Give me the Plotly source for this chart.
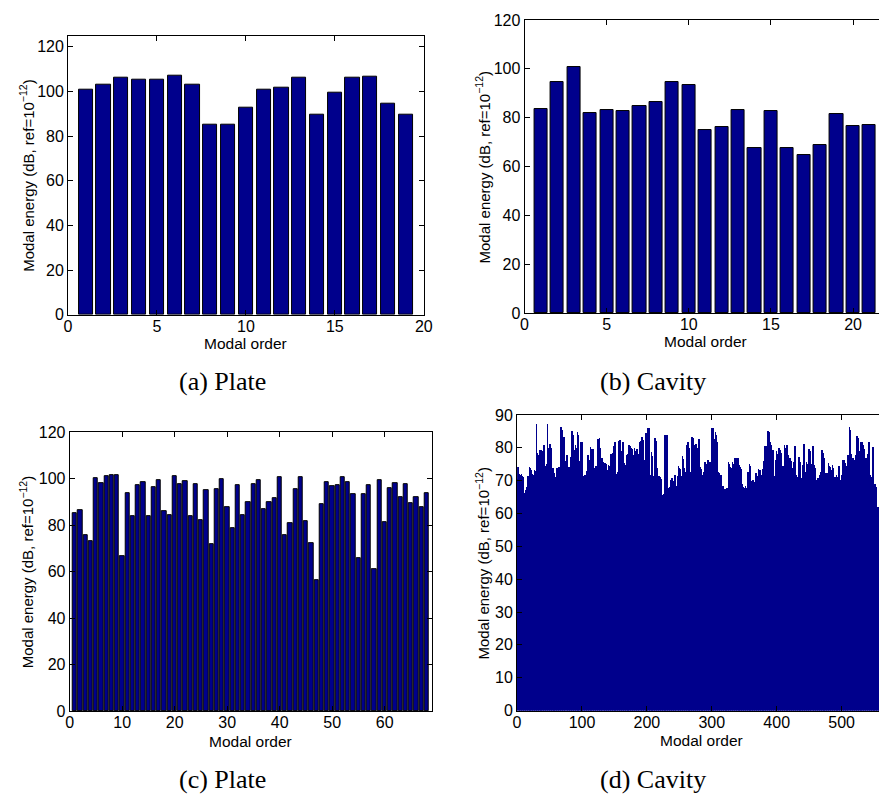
import plotly.graph_objects as go

# ---------------- data ----------------
plate_a_energy = [101.0, 103.2, 106.1, 105.5, 105.1, 106.9, 103.2, 85.3, 85.1, 92.6,
                  101.0, 101.9, 106.1, 89.6, 99.6, 106.4, 106.6, 94.6, 89.5]

cavity_b_energy = [83.4, 94.7, 100.9, 82.0, 83.1, 82.9, 84.9, 86.6, 94.5, 93.3,
                   74.8, 76.3, 83.3, 67.4, 82.7, 67.6, 64.7, 68.8, 81.4, 76.7, 77.2]

plate_c_energy = [85.2, 86.4, 75.5, 73.0, 100.4, 98.2, 101.1, 101.5, 101.3, 66.5,
                  93.6, 83.9, 97.2, 98.5, 83.9, 96.5, 99.5, 86.0, 84.5, 101.1,
                  97.7, 98.8, 83.9, 97.8, 82.1, 95.1, 71.8, 95.3, 99.8, 87.6,
                  78.9, 97.2, 84.2, 89.8, 97.5, 99.4, 87.0, 89.7, 91.5, 100.8,
                  75.5, 80.7, 95.4, 100.5, 81.7, 72.3, 56.5, 89.0, 98.4, 96.7,
                  97.0, 100.8, 98.5, 93.2, 65.8, 93.5, 97.4, 60.9, 99.4, 81.5,
                  95.8, 98.0, 92.0, 97.8, 89.4, 92.2, 87.6, 93.9]

cavity_d_energy = [
    70.5, 74.2, 72.0, 71.5, 69.0, 71.8, 72.0, 71.3, 71.0, 67.0,
    66.4, 59.4, 66.9, 67.2, 68.0, 71.3, 71.0, 71.5, 74.3, 74.0,
    72.5, 73.3, 71.5, 72.0, 71.8, 70.5, 73.3, 72.8, 73.0, 87.2,
    78.5, 77.8, 75.0, 77.8, 79.3, 79.2, 75.0, 79.3, 79.1, 78.0,
    80.5, 80.8, 74.5, 63.9, 72.0, 75.0, 87.2, 80.0, 79.3, 72.5,
    81.3, 80.0, 74.3, 73.0, 74.0, 72.3, 71.5, 72.3, 70.8, 71.0,
    73.8, 72.0, 73.8, 74.3, 73.0, 74.3, 75.0, 86.2, 85.5, 77.3,
    75.5, 83.3, 82.0, 72.0, 76.0, 65.5, 77.8, 75.0, 74.3, 73.0,
    74.3, 73.5, 77.3, 76.0, 85.2, 84.0, 79.3, 78.0, 79.3, 80.8,
    79.0, 80.0, 84.7, 84.0, 76.8, 76.0, 74.0, 75.8, 81.8, 80.5,
    81.8, 70.8, 71.5, 70.8, 71.8, 59.5, 71.8, 73.0, 77.8, 76.5,
    76.3, 76.0, 80.3, 79.5, 74.8, 60.0, 79.8, 79.5, 67.9, 74.0,
    72.0, 74.5, 68.0, 82.3, 82.8, 82.3, 83.0, 80.0, 76.8, 76.0,
    75.8, 76.8, 75.8, 74.0, 73.0, 75.3, 75.0, 74.0, 73.3, 73.0,
    74.8, 74.5, 73.0, 77.8, 78.0, 77.0, 78.3, 76.5, 80.5, 80.0,
    81.8, 81.5, 71.8, 72.0, 72.8, 62.5, 82.1, 81.0, 82.3, 79.0,
    65.9, 66.0, 81.8, 80.0, 75.3, 74.0, 74.8, 73.0, 77.8, 76.5,
    78.1, 77.0, 80.8, 79.5, 80.6, 80.0, 79.8, 79.0, 77.8, 76.0,
    80.0, 79.0, 75.8, 63.0, 79.6, 78.0, 75.3, 74.0, 81.8, 80.5,
    82.2, 81.0, 83.3, 82.5, 76.3, 75.0, 76.3, 75.5, 84.5, 83.0,
    85.0, 86.0, 86.0, 85.0, 71.8, 71.0, 78.8, 77.5, 70.8, 69.0,
    71.3, 70.0, 83.0, 82.0, 75.8, 74.0, 70.3, 69.5, 71.3, 70.0,
    71.1, 70.5, 64.9, 65.5, 64.9, 66.0, 84.0, 83.5, 83.8, 83.0,
    83.8, 80.0, 67.9, 67.0, 67.4, 68.0, 70.3, 69.5, 70.8, 70.0,
    68.7, 68.0, 71.8, 71.0, 68.4, 65.0, 71.3, 70.5, 74.6, 74.0,
    73.5, 72.5, 71.3, 70.5, 77.6, 76.5, 73.8, 73.0, 72.8, 72.0,
    81.0, 80.5, 81.8, 81.0, 80.0, 78.5, 72.8, 71.5, 72.0, 83.3,
    83.0, 82.3, 81.0, 75.3, 74.0, 81.3, 80.0, 77.8, 73.0, 82.8,
    82.0, 74.3, 73.5, 71.8, 71.5, 71.8, 71.0, 72.8, 72.0, 75.8,
    75.0, 66.4, 62.0, 76.3, 75.5, 75.8, 74.0, 75.8, 75.0, 86.0,
    85.5, 86.0, 85.0, 82.8, 82.0, 84.7, 84.0, 81.8, 80.5, 72.8,
    72.0, 72.3, 71.5, 71.8, 71.0, 68.4, 68.0, 68.4, 67.5, 67.4,
    62.5, 65.9, 65.5, 67.9, 67.0, 75.6, 75.0, 74.3, 73.5, 73.8,
    73.0, 75.6, 75.0, 74.8, 74.0, 77.0, 76.5, 77.0, 76.5, 77.0,
    76.0, 74.8, 74.0, 74.3, 73.5, 69.9, 69.0, 68.2, 67.5, 67.9,
    67.0, 68.4, 67.8, 67.4, 66.5, 72.8, 72.0, 75.1, 74.5, 70.6,
    70.0, 69.9, 69.0, 70.3, 69.5, 67.9, 63.5, 72.3, 71.5, 71.3,
    70.5, 73.6, 73.0, 73.3, 72.5, 71.8, 71.0, 73.6, 73.0, 76.0,
    75.0, 80.6, 80.0, 80.6, 79.5, 85.2, 85.0, 84.7, 84.0, 81.8,
    81.0, 79.6, 78.5, 79.3, 78.0, 71.3, 70.5, 76.3, 75.5, 79.0,
    78.0, 76.3, 75.5, 80.0, 79.0, 79.3, 78.5, 74.3, 66.0, 74.6,
    74.0, 81.0, 80.0, 77.8, 77.0, 80.8, 78.0, 77.8, 76.5, 75.8,
    76.8, 76.0, 74.5, 73.8, 73.0, 75.8, 75.0, 80.6, 79.5, 71.8,
    71.0, 70.8, 67.0, 77.3, 76.5, 75.8, 75.0, 70.8, 70.0, 74.8,
    74.0, 81.3, 80.5, 72.8, 72.0, 75.8, 75.0, 72.3, 71.5, 79.8,
    79.0, 75.8, 75.0, 73.8, 73.0, 80.6, 79.5, 74.8, 74.0, 70.6,
    70.0, 70.3, 68.0, 70.8, 70.0, 71.8, 71.0, 72.8, 72.0, 79.3,
    78.5, 77.8, 77.0, 70.3, 69.5, 72.3, 71.5, 72.3, 71.5, 75.3,
    74.5, 74.3, 73.5, 73.3, 72.5, 74.8, 74.0, 71.1, 60.0, 71.1,
    70.5, 71.8, 71.0, 70.8, 70.0, 74.6, 74.0, 70.3, 69.5, 71.8,
    71.0, 76.3, 75.5, 76.3, 75.5, 75.3, 74.5, 64.7, 64.5, 77.8,
    77.0, 86.2, 85.5, 78.8, 78.0, 72.3, 71.5, 76.8, 76.0, 76.3,
    75.5, 77.8, 77.0, 83.6, 83.0, 79.8, 79.0, 76.8, 76.0, 81.8,
    81.5, 81.8, 81.0, 80.3, 79.5, 73.8, 73.0, 77.0, 76.5, 78.0,
    77.5, 81.8, 81.0, 71.8, 71.0, 64.9, 59.5, 80.3, 79.5, 68.9,
    68.5, 68.9, 68.0, 62.0, 61.9, 62.0, 61.5, 62.0,
]

captions = ["(a) Plate", "(b) Cavity", "(c) Plate", "(d) Cavity"]
x_title = "Modal order"
y_title = "Modal energy (dB, ref=10<sup>\u221212</sup>)"

# ---------------- layout helpers ----------------
W, H = 888, 805
BAR_FILL = "rgb(0,0,140)"
SANS = "Liberation Sans, Arial, Helvetica, sans-serif"
SERIF = "Liberation Serif, Times New Roman, serif"


def px_x(x):
    return x / W


def px_y(y):
    return 1 - y / H


fig = go.Figure()


def add_bars(values, xa, ya, width, line_w):
    fig.add_trace(go.Bar(
        x=list(range(1, len(values) + 1)), y=values,
        width=width, xaxis=xa, yaxis=ya,
        marker=dict(color=BAR_FILL, line=dict(color="black", width=line_w)),
        showlegend=False, hoverinfo="x+y",
    ))


add_bars(plate_a_energy, "x", "y", 0.8, 1)
add_bars(cavity_b_energy, "x2", "y2", 0.8, 1)
add_bars(plate_c_energy, "x3", "y3", 0.8, 1)
add_bars(cavity_d_energy, "x4", "y4", 1.0, 0)

axis_common = dict(
    showgrid=False, zeroline=False, showline=True, linecolor="black",
    linewidth=1, ticks="inside", ticklen=5, tickcolor="black", tickwidth=1,
    tickfont=dict(family=SANS, size=16, color="black"),
)

# panel boxes in pixels: (left, right, top, bottom)
panels = {
    "1": (65.0, 426.0, 28.3, 313.3),
    "2": (528.3, 888.0, 12.3, 311.7),
    "3": (66.7, 434.3, 433.3, 718.3),
    "4": (520.7, 888.0, 415.7, 717.7),
}
x_ranges = {"1": [0, 20], "2": [0, 21.58], "3": [0, 69], "4": [0, 557.6]}
x_ticks = {"1": [0, 5, 10, 15, 20], "2": [0, 5, 10, 15, 20],
           "3": [0, 10, 20, 30, 40, 50, 60], "4": [0, 100, 200, 300, 400, 500]}
y_ranges = {"1": [0, 125], "2": [0, 120], "3": [0, 120], "4": [0, 90]}
y_ticks = {"1": list(range(0, 121, 20)), "2": list(range(0, 121, 20)),
           "3": list(range(0, 121, 20)), "4": list(range(0, 91, 10))}
full_box = {"1": True, "2": False, "3": True, "4": False}

layout_axes = {}
for k, (l, r, t, b) in panels.items():
    sx = "" if k == "1" else k
    layout_axes["xaxis" + sx] = dict(
        axis_common, domain=[px_x(l), px_x(r)], range=x_ranges[k],
        tickvals=x_ticks[k], anchor="y" + sx, mirror="ticks",
        ticklabelstandoff=-3,
    )
    layout_axes["yaxis" + sx] = dict(
        axis_common, domain=[px_y(b), px_y(t)], range=y_ranges[k],
        tickvals=y_ticks[k], anchor="x" + sx,
        mirror="ticks" if full_box[k] else False,
    )

annotations = []
# x-axis titles
for x, y in [(245.5, 342.5), (712, 341), (250.5, 749), (708, 748.5)]:
    annotations.append(dict(text=x_title, x=px_x(x), y=px_y(y), xref="paper",
                            yref="paper", showarrow=False, xanchor="center",
                            yanchor="middle",
                            font=dict(family=SANS, size=15.5, color="black")))
# y-axis titles
for x, y in [(23, 170.8), (486, 162), (23, 575.8), (486, 566.7)]:
    annotations.append(dict(text=y_title, x=px_x(x), y=px_y(y), xref="paper",
                            yref="paper", showarrow=False, textangle=-90,
                            xanchor="center", yanchor="middle",
                            font=dict(family=SANS, size=15, color="black")))
# subfigure captions
for text, (x, y) in zip(captions, [(222, 381.7), (659, 381.7), (222, 788), (659, 788)]):
    annotations.append(dict(text=text, x=px_x(x), y=px_y(y), xref="paper",
                            yref="paper", showarrow=False, xanchor="center",
                            yanchor="middle",
                            font=dict(family=SERIF, size=26, color="black")))

fig.update_layout(
    width=W, height=H, margin=dict(l=0, r=0, t=0, b=0),
    paper_bgcolor="white", plot_bgcolor="white",
    annotations=annotations, bargap=0, **layout_axes,
)

fig.write_html("out.html")
